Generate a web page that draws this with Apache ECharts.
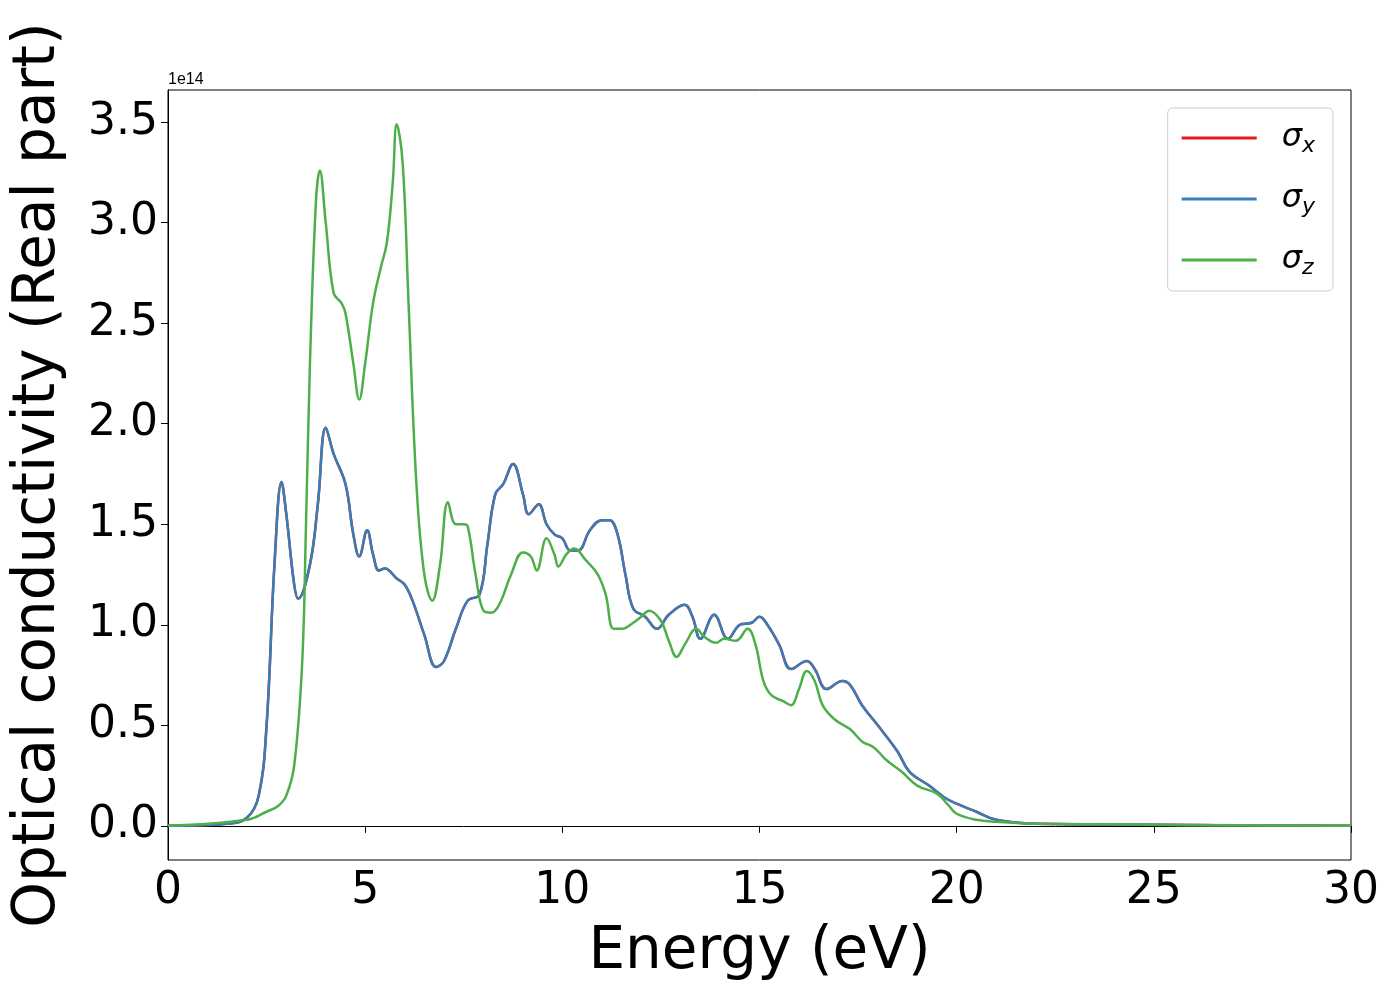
<!DOCTYPE html>
<html>
<head>
<meta charset="utf-8">
<script src="https://cdn.jsdelivr.net/npm/echarts@6/dist/echarts.min.js"></script>
<style>html,body{margin:0;padding:0;background:#fff}#chart{width:1400px;height:1000px}</style>
</head>
<body>
<div id="chart"></div>
<script>
// energy (eV) and conductivity (units of 1e14)
const xyEnergy = [0, 1.5, 2.0, 2.3, 2.5, 2.7, 2.88, 3.0, 3.2, 3.3, 3.6, 3.8, 4.0, 4.2, 4.5, 4.7, 4.85, 5.05, 5.2, 5.35, 5.5, 5.8, 6.0, 6.2, 6.5, 6.8, 7.0, 7.3, 7.6, 7.9, 8.1, 8.3, 8.5, 8.75, 9.0, 9.15, 9.4, 9.6, 9.8, 10.0, 10.2, 10.4, 10.7, 11.0, 11.2, 11.4, 11.6, 11.8, 12.1, 12.4, 12.7, 13.1, 13.3, 13.5, 13.85, 14.2, 14.5, 14.8, 15.0, 15.2, 15.5, 15.8, 16.2, 16.4, 16.7, 17.1, 17.3, 17.6, 18.0, 18.5, 18.8, 19.3, 19.7, 20.0, 20.5, 21, 22, 25, 30];
const xyValues = [0, 0.01, 0.04, 0.15, 0.5, 1.3, 1.71, 1.55, 1.2, 1.13, 1.3, 1.6, 1.98, 1.85, 1.7, 1.45, 1.34, 1.47, 1.35, 1.27, 1.28, 1.23, 1.2, 1.12, 0.95, 0.79, 0.82, 0.98, 1.12, 1.15, 1.4, 1.65, 1.7, 1.8, 1.65, 1.55, 1.6, 1.5, 1.45, 1.43, 1.37, 1.37, 1.47, 1.52, 1.52, 1.45, 1.25, 1.08, 1.04, 0.98, 1.05, 1.1, 1.04, 0.93, 1.05, 0.93, 1.0, 1.01, 1.04, 1.0, 0.9, 0.78, 0.82, 0.78, 0.68, 0.72, 0.7, 0.6, 0.5, 0.37, 0.27, 0.2, 0.14, 0.11, 0.07, 0.03, 0.01, 0.005, 0];
const zEnergy = [0, 2.0, 2.5, 2.8, 3.0, 3.2, 3.4, 3.5, 3.6, 3.75, 3.85, 4.0, 4.2, 4.4, 4.5, 4.7, 4.85, 5.0, 5.2, 5.4, 5.55, 5.7, 5.8, 5.95, 6.1, 6.3, 6.5, 6.7, 6.9, 7.1, 7.3, 7.5, 7.6, 7.8, 8.0, 8.2, 8.4, 8.7, 9.0, 9.2, 9.35, 9.6, 9.8, 9.9, 10.1, 10.3, 10.6, 10.9, 11.1, 11.3, 11.5, 11.8, 12.0, 12.2, 12.5, 12.7, 12.9, 13.1, 13.4, 13.6, 13.9, 14.1, 14.4, 14.7, 14.9, 15.1, 15.3, 15.6, 15.8, 16.0, 16.2, 16.4, 16.6, 16.9, 17.3, 17.6, 17.9, 18.2, 18.6, 19.0, 19.5, 19.8, 20.0, 20.5, 21, 22, 30];
const zValues = [0, 0.03, 0.07, 0.1, 0.15, 0.3, 0.8, 1.5, 2.3, 3.1, 3.26, 3.0, 2.65, 2.6, 2.55, 2.3, 2.12, 2.3, 2.6, 2.78, 2.9, 3.2, 3.49, 3.3, 2.6, 1.7, 1.25, 1.12, 1.3, 1.61, 1.5, 1.5, 1.49, 1.25, 1.07, 1.06, 1.1, 1.25, 1.36, 1.34, 1.27, 1.43, 1.35, 1.29, 1.35, 1.38, 1.32, 1.25, 1.15, 0.98, 0.98, 1.01, 1.04, 1.07, 1.02, 0.92, 0.84, 0.9, 0.98, 0.94, 0.91, 0.93, 0.92, 0.98, 0.9, 0.72, 0.65, 0.62, 0.6, 0.68, 0.77, 0.72, 0.6, 0.53, 0.48, 0.42, 0.39, 0.33, 0.27, 0.2, 0.16, 0.1, 0.06, 0.03, 0.02, 0.01, 0];
const yTicks = [0, 0.5, 1.0, 1.5, 2.0, 2.5, 3.0, 3.5];
const seriesNames = ['x', 'y', 'z'];
const seriesColors = ['#e41a1c', '#377eb8', '#4daf4a'];

const pairs = (xs, ys) => xs.map((x, i) => [x, ys[i]]);
const dataSets = [pairs(xyEnergy, xyValues), pairs(xyEnergy, xyValues), pairs(zEnergy, zValues)];

const chart = echarts.init(document.getElementById('chart'));
chart.setOption({
  animation: false,
  textStyle: { fontFamily: 'DejaVu Sans' },
  grid: { left: 168, right: 49, top: 90, bottom: 140, show: true, borderColor: '#000', borderWidth: 1, containLabel: false, outerBoundsMode: 'none' },
  legend: {
    right: 67, top: 108, orient: 'vertical', itemWidth: 75, itemHeight: 3, itemGap: 26,
    padding: [14, 18, 12, 14], borderColor: '#ccc', borderWidth: 1, borderRadius: 5,
    icon: 'rect',
    formatter: (n) => '{s|σ}{b|' + n + '}',
    textStyle: { padding: [0, 0, 0, 20], rich: { s: { fontSize: 32, fontStyle: 'italic', color: '#000' }, b: { fontSize: 22, fontStyle: 'italic', color: '#000', verticalAlign: 'bottom', padding: [16, 0, 0, 0] } } },
    data: seriesNames
  },
  xAxis: {
    type: 'value', min: 0, max: 30, interval: 5,
    name: 'Energy (eV)', nameLocation: 'middle', nameGap: 64,
    nameTextStyle: { fontSize: 58, color: '#000' },
    axisLine: { lineStyle: { color: '#000' } },
    axisTick: { inside: false, length: 7, lineStyle: { color: '#000' } },
    axisLabel: { fontSize: 44, color: '#000', margin: 10 },
    splitLine: { show: false }
  },
  yAxis: {
    type: 'value', min: -0.17, max: 3.66,
    name: 'Optical conductivity (Real part)', nameLocation: 'middle', nameGap: 100,
    nameTextStyle: { fontSize: 58, color: '#000' },
    axisLine: { show: true, lineStyle: { color: '#000' } },
    axisTick: { show: true, length: 7, customValues: yTicks, lineStyle: { color: '#000' } },
    axisLabel: { fontSize: 44, color: '#000', margin: 10, customValues: yTicks, formatter: (v) => v.toFixed(1) },
    splitLine: { show: false }
  },
  graphic: [{ type: 'text', left: 168, top: 72, style: { text: '1e14', fontSize: 16, fill: '#000' } }],
  series: seriesNames.map((n, i) => ({
    name: n, type: 'line', data: dataSets[i], smooth: 0.4, showSymbol: false,
    lineStyle: { width: 2.5, color: seriesColors[i] }, itemStyle: { color: seriesColors[i] }
  }))
});
</script>
</body>
</html>
